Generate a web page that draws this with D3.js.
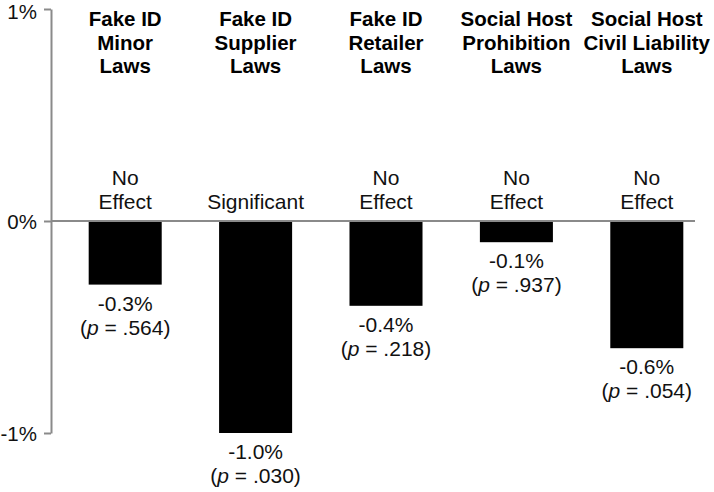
<!DOCTYPE html>
<html lang="en">
<head>
  <meta charset="UTF-8">
  <title>Law effects</title>
  <script src="https://d3js.org/d3.v7.min.js"></script>
  <style>
    body { margin: 0; background: #fff; font-family: Arial, "Liberation Sans", sans-serif; }
  </style>
</head>
<body>
  <div id="chart"></div>
  <script>
    // data
    const laws = [
      ["Fake ID", "Minor", "Laws"],
      ["Fake ID", "Supplier", "Laws"],
      ["Fake ID", "Retailer", "Laws"],
      ["Social Host", "Prohibition", "Laws"],
      ["Social Host", "Civil Liability", "Laws"]
    ];
    const effects = [-0.3, -1.0, -0.4, -0.1, -0.6];
    const pValues = [".564", ".030", ".218", ".937", ".054"];
    const verdicts = [["No", "Effect"], ["Significant"], ["No", "Effect"], ["No", "Effect"], ["No", "Effect"]];
    const yTicks = [-1, 0, 1];

    const width = 714, height = 492;
    const axisX = 51;

    const svg = d3.select("#chart").append("svg")
      .attr("width", width)
      .attr("height", height);

    const y = d3.scaleLinear().domain([-1, 1]).range([433, 9]);
    const x = d3.scaleBand()
      .domain(d3.range(effects.length))
      .range([60, 712])
      .paddingInner(0.44)
      .paddingOuter(0.22);

    // bars
    svg.selectAll(".bar")
      .data(effects)
      .enter().append("rect")
      .attr("class", "bar")
      .attr("x", (d, i) => x(i))
      .attr("y", y(0))
      .attr("width", x.bandwidth())
      .attr("height", d => y(d) - y(0))
      .attr("fill", "#000");

    // zero line
    svg.append("line")
      .attr("x1", axisX).attr("x2", 695)
      .attr("y1", y(0)).attr("y2", y(0))
      .attr("stroke", "#8a8a8a")
      .attr("stroke-width", 2);

    // y axis
    const yAxis = svg.append("g")
      .attr("transform", `translate(${axisX},0)`)
      .call(d3.axisLeft(y).tickValues(yTicks).tickSize(7).tickSizeOuter(0).tickPadding(7)
        .tickFormat(d => (d < 0 ? "-" : "") + Math.abs(d) + "%"));
    yAxis.select(".domain").attr("stroke", "#8a8a8a").attr("stroke-width", 2);
    yAxis.selectAll(".tick line").attr("stroke", "#8a8a8a").attr("stroke-width", 2);
    yAxis.selectAll(".tick text")
      .attr("fill", "#111")
      .attr("dy", "0.36em")
      .attr("y", d => d === 1 ? 2.5 : 0)   // keep the top label inside the page
      .style("font-family", "Arial, 'Liberation Sans', sans-serif")
      .style("font-size", "20.5px");

    const cx = i => x(i) + x.bandwidth() / 2;

    // category titles
    laws.forEach((lines, i) => {
      const t = svg.append("text")
        .attr("text-anchor", "middle")
        .attr("fill", "#000")
        .style("font-size", "20.5px")
        .style("font-weight", "bold");
      lines.forEach((s, j) => {
        t.append("tspan").attr("x", cx(i)).attr("y", 26 + j * 23.5).text(s);
      });
    });

    // verdict above the zero line
    verdicts.forEach((lines, i) => {
      const t = svg.append("text")
        .attr("text-anchor", "middle")
        .attr("fill", "#111")
        .style("font-size", "21px");
      lines.forEach((s, j) => {
        t.append("tspan").attr("x", cx(i))
          .attr("y", 209 - (lines.length - 1 - j) * 24).text(s);
      });
    });

    // value and p labels below bars
    effects.forEach((d, i) => {
      const base = y(d);
      svg.append("text")
        .attr("x", cx(i)).attr("y", base + 26)
        .attr("text-anchor", "middle")
        .attr("fill", "#111")
        .style("font-size", "21px")
        .text(d.toFixed(1) + "%");
      const p = svg.append("text")
        .attr("x", cx(i)).attr("y", base + 50)
        .attr("text-anchor", "middle")
        .attr("fill", "#111")
        .style("font-size", "21px");
      p.append("tspan").text("(");
      p.append("tspan").style("font-style", "italic").text("p");
      p.append("tspan").text(" = " + pValues[i] + ")");
    });
  </script>
</body>
</html>
